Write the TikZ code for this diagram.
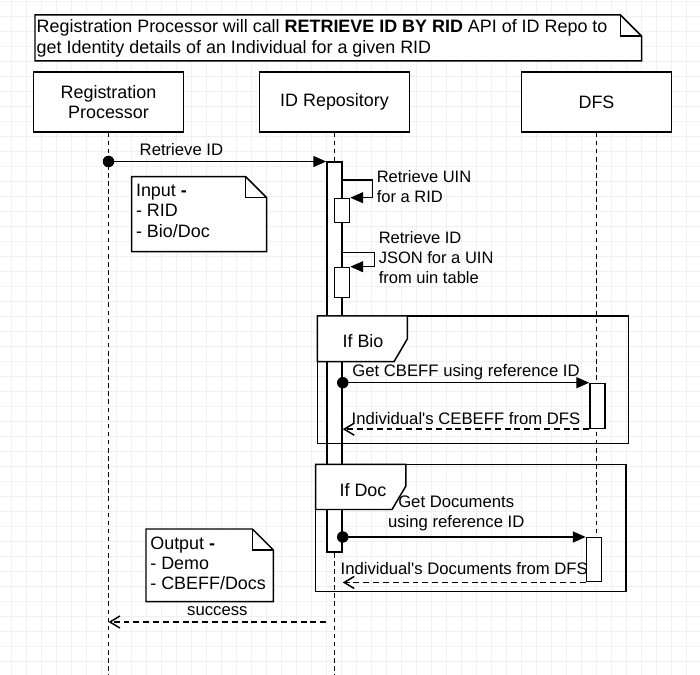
\documentclass[tikz,border=0pt]{standalone}
\usepackage{fontspec}
\setmainfont{Liberation Sans}
\usetikzlibrary{arrows.meta, positioning}

% note with a folded corner, corners (#1,#2) and (#3,#4)
\newcommand{\dogear}[4]{%
  \draw[fill=white] (#1,#2) -- (#3-21,#2) -- (#3,#2+21) -- (#3,#4) -- (#1,#4) -- cycle;
  \draw (#3-21,#2) -- (#3-21,#2+21) -- (#3,#2+21);}

\begin{document}
\begin{tikzpicture}[x=0.02cm, y=-0.02cm, line width=0.85pt,
    head/.style={draw, fill=white, minimum width=3cm, minimum height=1.2cm, align=center, font=\fontsize{10.2}{11.4}\selectfont},
    act/.style={draw, fill=white, minimum width=0.3cm, inner sep=0pt, anchor=north},
    life/.style={dash pattern=on 2.6pt off 2pt},
    msg/.style={-{Triangle[length=0.26cm, width=0.22cm]}},
    reply/.style={dash pattern=on 3.4pt off 2.2pt, -{Straight Barb[length=0.2cm, width=0.24cm]}},
    lbl/.style={font=\fontsize{9.5}{11.4}\selectfont, inner sep=0pt, anchor=base, yshift=3.6pt},
    selflbl/.style={font=\fontsize{9.4}{11.4}\selectfont, inner sep=0pt, align=left, anchor=west},
    notetxt/.style={font=\fontsize{10.2}{11.6}\selectfont, inner sep=0pt, align=left, anchor=west},
    fragtxt/.style={font=\fontsize{10.2}{11.3}\selectfont, inner sep=0pt},
    dot/.style={circle, fill, inner sep=0pt, minimum size=0.23cm},
    gridline/.style={line width=0.4pt, black!6}]

    \useasboundingbox (0,0) rectangle (700,675);
    \foreach \g in {0,...,46} {
        \draw[gridline] (11.7+15*\g,0) -- (11.7+15*\g,675);
        \draw[gridline] (0,1.7+15*\g) -- (700,1.7+15*\g);
    }

    \node[head] (rp) at (108.5,102) {Registration\\Processor};
    \node[head] (idr) at (334.5,102) {ID Repository};
    \node[head] (dfs) at (596.5,102) {DFS};

    \draw[life] (rp.south) -- (rp.south |- 0,675);
    \draw[life] (idr.south) -- (idr.south |- 0,675);
    \draw[life] (dfs.south) -- (dfs.south |- 0,581);

    \node[act, minimum height=7.8cm] (actIDR) at (idr.south |- 0,161.5) {};
    \node[act, minimum height=0.48cm] (uinBar) at (342,197.7) {};
    \node[act, minimum height=0.6cm] (jsonBar) at (342,266.7) {};
    \node[act, minimum height=0.9cm] (cbeffBar) at (597.5,382.7) {};
    \node[act, minimum height=0.88cm] (docBar) at (594,537) {};

    % alt fragments
    \draw (317.3,316) rectangle (628.3,443.3);
    \draw[fill=white] (317.3,316) -- (407.3,316) -- (407.3,339) -- (394,361.7) -- (317.3,361.7) -- cycle;
    \node[fragtxt] (ifBio) at (363,341) {If Bio};
    \draw (315.7,464.3) rectangle (626,591.7);
    \draw[fill=white] (315.7,464.3) -- (405.9,464.3) -- (405.9,486) -- (392,509.5) -- (315.7,509.5) -- cycle;
    \node[fragtxt] (ifDoc) at (363,490.3) {If Doc};

    % notes
    \dogear{35}{15}{641.5}{61}
    \node[notetxt, font=\fontsize{10.2}{11.9}\selectfont] (topNote) at (36,38.5) {Registration Processor will call \textbf{RETRIEVE ID BY RID} API of ID Repo to\\get Identity details of an Individual for a given RID};
    \dogear{131.7}{176.7}{266.7}{251.7}
    \node[notetxt] (inNote) at (135.3,210.8) {Input \textbf{-}\\- RID\\- Bio/Doc};
    \dogear{146}{529}{273.4}{601.7}
    \node[notetxt] (outNote) at (149.6,563.3) {Output \textbf{-}\\- Demo\\- CBEFF/Docs};

    % messages
    \node[dot] (ridDot) at (rp.south |- actIDR.north) {};
    \draw[msg] (ridDot.center) -- node[lbl, pos=0.335] (ridLbl) {Retrieve ID} (actIDR.north west);

    \coordinate (uinOut) at (actIDR.east |- 0,180);
    \draw[msg] (uinOut) -- ++(30,0) |- (uinBar.north east);
    \node[selflbl] (uinLbl) at (376,186.5) {Retrieve UIN\\for a RID};
    \coordinate (jsonOut) at (actIDR.east |- 0,252.3);
    \draw[msg] (jsonOut) -- ++(31.5,0) |- (jsonBar.north east);
    \node[selflbl] (jsonLbl) at (378,257.5) {Retrieve ID\\JSON for a UIN\\from uin table};

    \node[dot] (cbeffDot) at (actIDR.east |- cbeffBar.north) {};
    \draw[msg] (cbeffDot.center) -- node[lbl] (cbeffLbl) {Get CBEFF using reference ID} (cbeffBar.north west);
    \draw[reply] (cbeffBar.south west) -- node[lbl, yshift=-1pt] (cbeffBack) {Individual\textquotesingle s CEBEFF from DFS} (actIDR.east |- cbeffBar.south);

    \node[dot] (docDot) at (actIDR.east |- docBar.north) {};
    \draw[msg] (docDot.center) -- node[lbl, align=center, anchor=south, pos=0.467, yshift=-0.8pt] (docLbl) {Get Documents\\using reference ID} (docBar.north west);
    \draw[reply] (docBar.south west) -- node[lbl, yshift=0.8pt] (docBack) {Individual\textquotesingle s Documents from DFS} (actIDR.east |- docBar.south);

    \coordinate (succFrom) at (actIDR.west |- 0,622);
    \draw[reply] (succFrom) -- node[lbl] (succLbl) {success} (rp.south |- succFrom);

\end{tikzpicture}
\end{document}
